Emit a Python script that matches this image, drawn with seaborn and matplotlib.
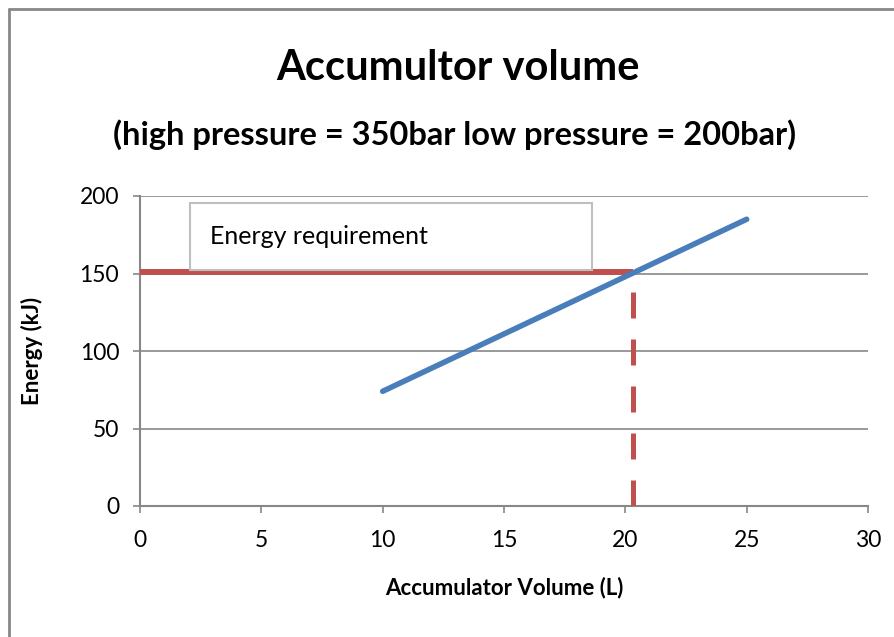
import matplotlib
matplotlib.use("Agg")
import matplotlib.pyplot as plt
import seaborn as sns
import pandas as pd
from matplotlib.patches import Rectangle

volume = [10, 15, 20, 25]
energy = [74, 111, 148, 185]
req_energy = 151
req_volume = 20.33
x_ticks = [0, 5, 10, 15, 20, 25, 30]
y_ticks = [0, 50, 100, 150, 200]

sns.set_theme(style="white")
plt.rcParams['font.family'] = ['Lato', 'DejaVu Sans']
plt.rcParams['text.color'] = 'black'

fig = plt.figure(figsize=(8.94, 6.37), dpi=100)
ax = fig.add_axes([140/894, 1-506/637, (868-140)/894, (506-196)/637])

df = pd.DataFrame({"Volume": volume, "Energy": energy})
grid_c = "#878787"
for yv in y_ticks[1:]:
    ax.axhline(yv, color=grid_c, lw=1.2, zorder=1)

ax.plot([0, req_volume], [req_energy, req_energy], color="#c0504d", lw=4.3,
        solid_capstyle="butt", zorder=3)
ax.plot([req_volume, req_volume], [0, req_energy], color="#c0504d", lw=3.6,
        dashes=(5.2, 4.2), dash_capstyle="butt", zorder=3)
sns.lineplot(data=df, x="Volume", y="Energy", ax=ax, color="#4a7ebb", lw=4,
             solid_capstyle="round", zorder=4)

ax.set_xlim(0, 30)
ax.set_ylim(0, 200)
ax.set_xticks(x_ticks)
ax.set_yticks(y_ticks)
for s in ["top", "right"]:
    ax.spines[s].set_visible(False)
for s in ["left", "bottom"]:
    ax.spines[s].set_color(grid_c)
    ax.spines[s].set_linewidth(1.5)
ax.tick_params(axis="both", direction="out", length=5, width=1.2, color=grid_c,
               labelsize=16.5, labelcolor="black")
ax.tick_params(axis="x", bottom=True, pad=12)
ax.tick_params(axis="y", left=True, pad=10)
ax.set_xlabel("Accumulator Volume (L)", fontsize=16, fontweight="bold", color="black")
ax.set_ylabel("Energy (kJ)", fontsize=16, fontweight="bold", color="black")
ax.xaxis.set_label_coords(0.5, -(588-506)/310, transform=ax.transAxes)
ax.yaxis.set_label_coords(-(140-32)/728, 0.5, transform=ax.transAxes)
ax.xaxis.label.set_va("center")
ax.yaxis.label.set_va("center")
ax.set_facecolor("white")

fig.add_artist(Rectangle((190/894, 1-270/637), 402/894, 67/637, transform=fig.transFigure,
                         facecolor="white", edgecolor="#bfbfbf", lw=1.5, zorder=5))
fig.text(210/894, 1-236/637, "Energy requirement", fontsize=18, va="center", ha="left",
         color="black", zorder=6)

fig.text(458/894, 1-68/637, "Accumultor volume", fontsize=30, fontweight="bold",
         ha="center", va="center", color="black")
fig.text(455/894, 1-135/637, "(high pressure = 350bar low pressure = 200bar)", fontsize=23.5,
         fontweight="bold", ha="center", va="center", color="black")

fig.add_artist(plt.Line2D([9/894, 9/894], [0, 1-9/637], transform=fig.transFigure,
                          color="#888888", lw=2))
fig.add_artist(plt.Line2D([9/894, 1], [1-9/637, 1-9/637], transform=fig.transFigure,
                          color="#888888", lw=2))

fig.savefig("out.png", dpi=100)
